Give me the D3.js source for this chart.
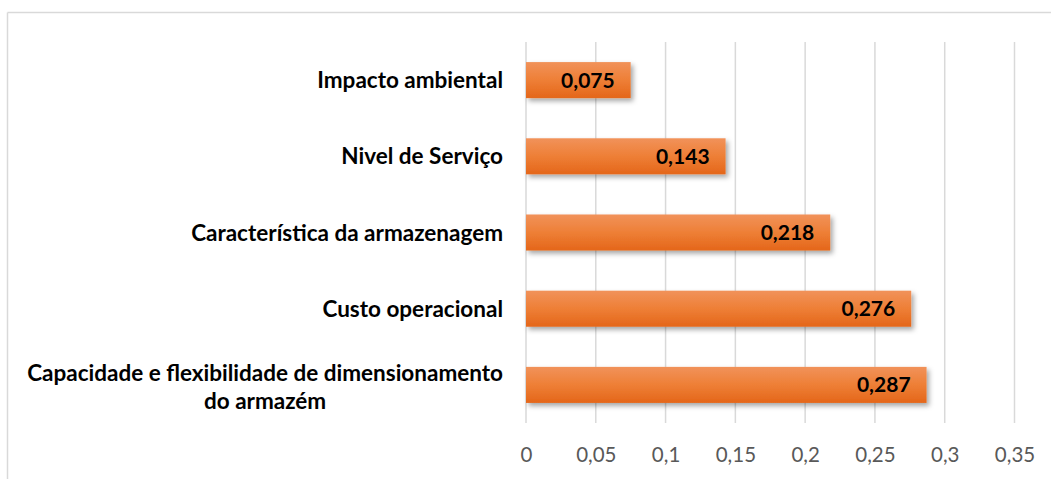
<!DOCTYPE html>
<html><head><meta charset="utf-8">
<script src="https://cdn.jsdelivr.net/npm/d3@7"></script>
<style>
html,body{margin:0;padding:0;background:#fff;}
svg text{font-family:Lato,"Noto Sans",sans-serif;}
</style></head>
<body>
<svg id="chart" width="1051" height="479"></svg>
<script>
const categories = ["Impacto ambiental","Nivel de Serviço","Característica da armazenagem","Custo operacional","Capacidade e flexibilidade de dimensionamento|do armazém"];
const values = [0.075,0.143,0.218,0.276,0.287];
const valueLabels = ["0,075","0,143","0,218","0,276","0,287"];
const tickValues = [0,0.05,0.1,0.15,0.2,0.25,0.3,0.35];
const tickLabels = ["0","0,05","0,1","0,15","0,2","0,25","0,3","0,35"];

const svg = d3.select("#chart");
const W = 1051, H = 479;
const m = {left:526, right:W-1014.5, top:42, bottom:H-423};

// outer border (top and left visible)
svg.append("line").attr("x1",7.5).attr("x2",W).attr("y1",12.5).attr("y2",12.5).attr("stroke","#d9d9d9").attr("stroke-width",1.5);
svg.append("line").attr("x1",7.5).attr("x2",7.5).attr("y1",12.5).attr("y2",H).attr("stroke","#d9d9d9").attr("stroke-width",1.5);

const x = d3.scaleLinear().domain([0,0.35]).range([m.left, W-m.right]);
const y = d3.scaleBand().domain(categories).range([m.top, H-m.bottom]).paddingInner(0.527).paddingOuter(0.2635);

const defs = svg.append("defs");
const grad = defs.append("linearGradient").attr("id","barGrad").attr("x1",0).attr("x2",0).attr("y1",0).attr("y2",1);
grad.append("stop").attr("offset","0%").attr("stop-color","#f1925a");
grad.append("stop").attr("offset","50%").attr("stop-color","#ee7f36");
grad.append("stop").attr("offset","100%").attr("stop-color","#e4661a");
const f = defs.append("filter").attr("id","shadow").attr("x","-10%").attr("y","-30%").attr("width","130%").attr("height","180%");
f.append("feDropShadow").attr("dx",2.5).attr("dy",3).attr("stdDeviation",2.5).attr("flood-color","#000").attr("flood-opacity",0.35);

// gridlines
svg.append("g").selectAll("line").data(tickValues).join("line")
  .attr("x1",d=>x(d)).attr("x2",d=>x(d)).attr("y1",m.top).attr("y2",H-m.bottom)
  .attr("stroke","#d9d9d9").attr("stroke-width",1.5);

// x axis labels
const xAxis = d3.axisBottom(x).tickValues(tickValues).tickFormat((d,i)=>tickLabels[i]).tickSize(0).tickPadding(0);
const gx = svg.append("g").attr("transform",`translate(0,${H-m.bottom+24})`).call(xAxis);
gx.select(".domain").remove();
gx.selectAll("text").attr("font-family","Lato").attr("font-size",20.5).attr("fill","#595959");

// bars
svg.append("g").selectAll("rect").data(values).join("rect")
  .attr("x",x(0)).attr("y",(d,i)=>y(categories[i]))
  .attr("width",d=>x(d)-x(0)).attr("height",y.bandwidth())
  .attr("fill","url(#barGrad)").attr("filter","url(#shadow)");

// value labels
svg.append("g").selectAll("text").data(values).join("text")
  .attr("x",d=>x(d)-16).attr("y",(d,i)=>y(categories[i])+y.bandwidth()/2)
  .attr("dy","0.36em").attr("text-anchor","end")
  .attr("font-size",21).attr("font-weight","bold").attr("fill","#000")
  .text((d,i)=>valueLabels[i]);

// category labels
const gy = svg.append("g");
categories.forEach((c,i)=>{
  const lines = c.split("|");
  const cy = y(c)+y.bandwidth()/2;
  const t = gy.append("text").attr("font-size",22.5).attr("font-weight","bold").attr("fill","#000");
  if(lines.length===1){
    t.attr("x",503).attr("y",cy).attr("dy","0.36em").attr("text-anchor","end").text(c);
  } else {
    const lh = 28;
    t.append("tspan").text(lines[0]);
    const w = t.node().getComputedTextLength();
    t.text(null);
    const cx = 503 - w/2;
    lines.forEach((l,j)=>{
      t.append("tspan").attr("x",cx).attr("y",cy + 2 + (j-(lines.length-1)/2)*lh).attr("dy","0.36em").attr("text-anchor","middle").text(l);
    });
  }
});
</script>
</body></html>
